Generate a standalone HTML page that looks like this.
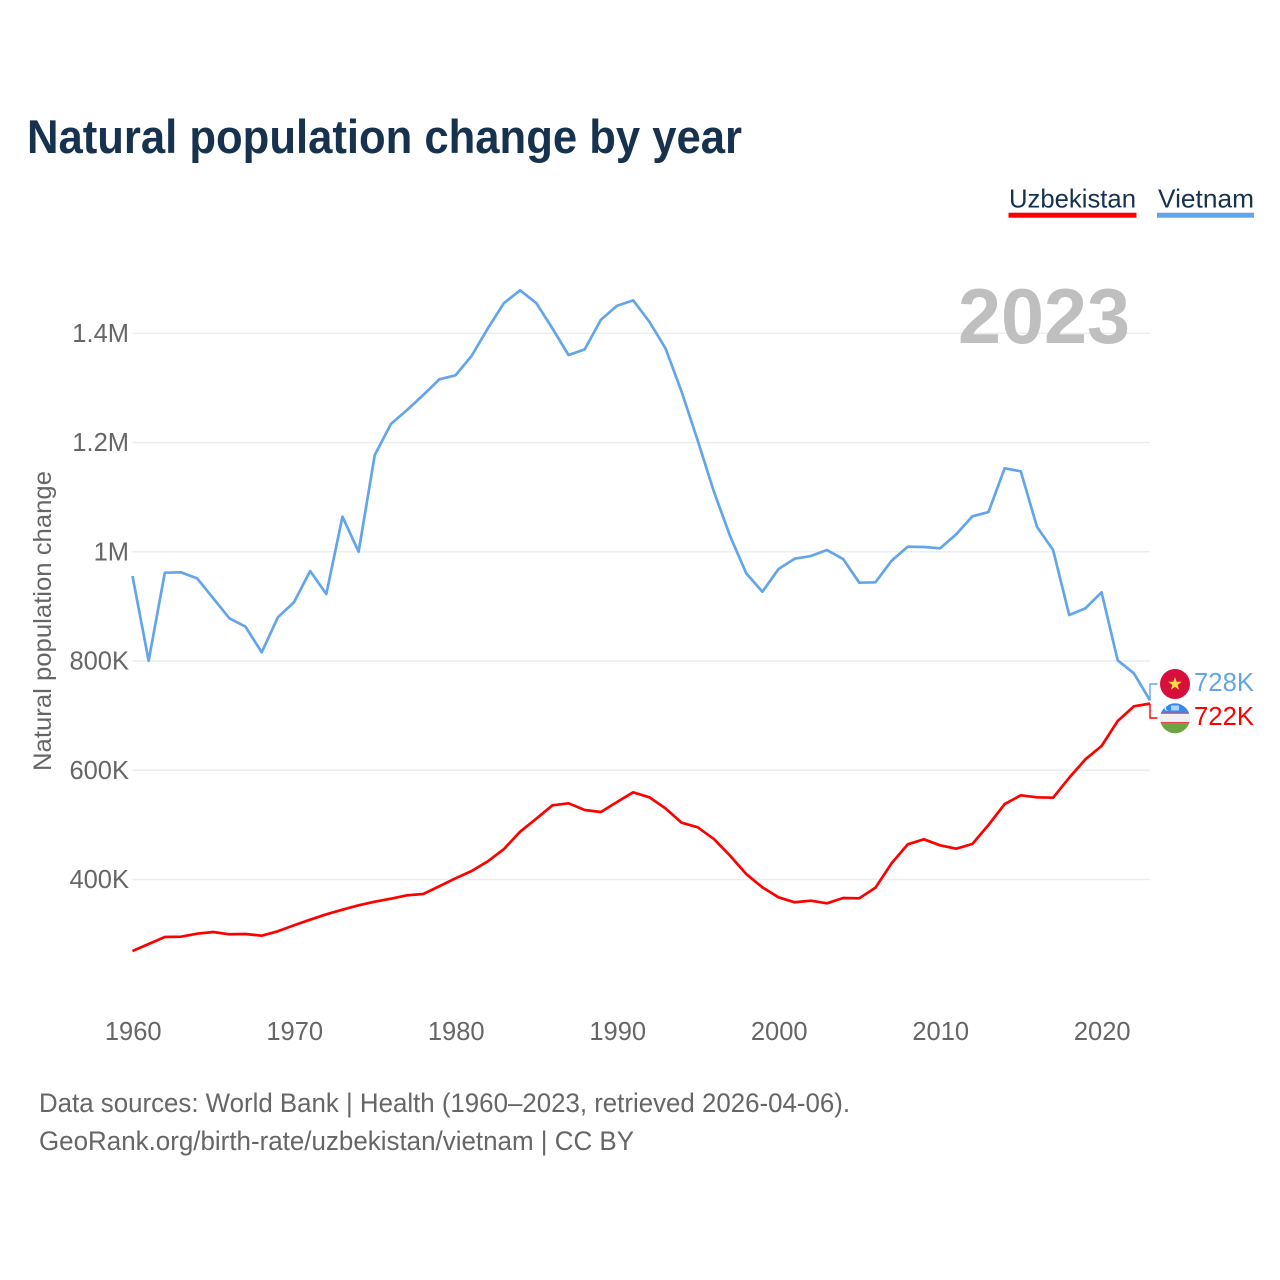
<!DOCTYPE html>
<html>
<head>
<meta charset="utf-8">
<title>Natural population change by year</title>
<style>
html,body{margin:0;padding:0;background:#fff;}
svg{display:block;}
text{font-family:"Liberation Sans",sans-serif;}
</style>
</head>
<body>
<svg id="chart" xmlns="http://www.w3.org/2000/svg" width="1280" height="1280" viewBox="0 0 1280 1280">
  <rect x="0" y="0" width="1280" height="1280" fill="#ffffff"/>
  <text x="27" y="153" font-size="47" font-weight="700" fill="#17324f" textLength="715" lengthAdjust="spacingAndGlyphs">Natural population change by year</text>

  <g>
    <text x="1009" y="207.5" font-size="26" fill="#17324f" textLength="127" lengthAdjust="spacingAndGlyphs">Uzbekistan</text>
    <rect x="1008.5" y="212.7" width="128" height="5" fill="#ff0000"/>
  </g>
  <g>
    <text x="1158" y="207.5" font-size="26" fill="#17324f" textLength="96" lengthAdjust="spacingAndGlyphs">Vietnam</text>
    <rect x="1157" y="212.7" width="97" height="5" fill="#63a5ea"/>
  </g>

  <g id="grid"></g>
  <g id="yticks"></g>
  <g id="xticks"></g>

  <text x="958" y="343" font-size="78" font-weight="700" fill="#bfbfbf" textLength="172" lengthAdjust="spacingAndGlyphs">2023</text>
  <text transform="translate(51,771) rotate(-90)" x="0" y="0" font-size="25" fill="#666666" textLength="300" lengthAdjust="spacingAndGlyphs">Natural population change</text>

  <g id="series"></g>

  <g>
    <circle cx="1175" cy="684" r="15" fill="#d80f3a"/>
    <polygon fill="#ffda44" points="1175,677 1176.7,681.7 1181.7,681.8 1177.7,684.9 1179.1,689.7 1175,686.9 1170.9,689.7 1172.3,684.9 1168.3,681.8 1173.3,681.7"/>
  </g>
  <g>
    <clipPath id="uzclip"><circle cx="1175" cy="718.3" r="15"/></clipPath>
    <g clip-path="url(#uzclip)">
      <rect x="1160" y="703" width="30" height="10" fill="#338af3"/>
      <rect x="1160" y="713" width="30" height="10" fill="#f0f0f0"/>
      <rect x="1160" y="712.6" width="30" height="1.2" fill="#e8434f"/>
      <rect x="1160" y="722" width="30" height="1.2" fill="#e8434f"/>
      <rect x="1160" y="723" width="30" height="11" fill="#6da544"/>
      <circle cx="1167" cy="708" r="2.6" fill="#f0f0f0"/>
      <circle cx="1168.2" cy="708" r="2.3" fill="#338af3"/>
      <rect x="1171" y="705.5" width="8" height="5" fill="#cfe3fb" opacity="0.8"/>
    </g>
  </g>
  <text x="1194" y="691" font-size="26" fill="#63a5ea" textLength="60" lengthAdjust="spacingAndGlyphs">728K</text>
  <text x="1194" y="725" font-size="26" fill="#ff0000" textLength="60" lengthAdjust="spacingAndGlyphs">722K</text>

  <text x="39" y="1112" font-size="26.5" fill="#666666" textLength="811" lengthAdjust="spacingAndGlyphs">Data sources: World Bank | Health (1960–2023, retrieved 2026-04-06).</text>
  <text x="39" y="1150" font-size="26.5" fill="#666666" textLength="595" lengthAdjust="spacingAndGlyphs">GeoRank.org/birth-rate/uzbekistan/vietnam | CC BY</text>
</svg>
<script>
const startYear = 1960;
const endYear = 2023;
const vietnamValues = [955.6,800.5,961.7,962.4,951.4,914.8,878.2,862.8,815.9,880,907.5,964.8,922.7,1064.2,1000.1,1177.1,1233.9,1259.5,1287,1315.7,1323,1358.9,1409,1455.4,1478.6,1455.4,1409,1360.2,1370.6,1424.8,1450.5,1460.3,1421.2,1372.5,1293,1203.3,1109.9,1028.8,960.6,926.9,968.4,987.3,992.2,1003.2,986.7,943.4,944.1,983.6,1009.3,1008.7,1006.3,1032,1064.9,1072.8,1152.8,1147.3,1045.9,1003.2,884.2,896.5,925.8,801.3,777.5,728];
const uzbekistanValues = [269.1,281.9,294.7,295.3,300.8,303.9,299.7,300.2,297.1,305.2,316.2,326.4,336.3,344.7,352.8,359.4,364.9,371.1,373.5,387.6,402.2,415.6,433.3,455.8,487.5,511.3,535.8,539.5,527.2,523.6,541.9,559.6,550.5,530.3,504,495.6,474.1,443.6,410,385.7,367.4,358.3,361.2,356.4,366.1,365.6,385,429.7,464.4,473.6,462.6,456.4,465,499.8,538.2,554.1,550.5,549.8,586.4,620,644.4,690.2,717,722];
const yTickValues = [400,600,800,1000,1200,1400];
const yTickLabels = ["400K","600K","800K","1M","1.2M","1.4M"];
const xTickValues = [1960,1970,1980,1990,2000,2010,2020];
const xTickLabels = ["1960","1970","1980","1990","2000","2010","2020"];

const NS = "http://www.w3.org/2000/svg";
function xScale(year){ return 132.5 + (year - startYear) * (1150 - 132.5) / (endYear - startYear); }
function yScale(v){ return 879.5 - (v - 400) * (879.5 - 333.3) / 1000; }
function make(tag, attrs, parent){
  const el = document.createElementNS(NS, tag);
  for (const k in attrs) el.setAttribute(k, attrs[k]);
  parent.appendChild(el);
  return el;
}

const grid = document.getElementById('grid');
const yticks = document.getElementById('yticks');
yTickValues.forEach(function(v, i){
  const line = make('line', {x1:132.5, x2:1150, y1:yScale(v), y2:yScale(v), stroke:'#ececec', 'stroke-width':1.4}, grid);
  
  
  const t = make('text', {x:129, y:yScale(v)+8.5, 'text-anchor':'end', 'font-size':25.5, fill:'#666666'}, yticks);
  t.textContent = yTickLabels[i];
  
  
});

const xticks = document.getElementById('xticks');
xTickValues.forEach(function(year, i){
  const t = make('text', {x:xScale(year)+0.7, y:1040, 'text-anchor':'middle', 'font-size':25.5, fill:'#666666'}, xticks);
  t.textContent = xTickLabels[i];
  
  
});

function linePath(values){
  return values.map(function(v, i){
    return (i ? 'L' : 'M') + xScale(startYear + i).toFixed(2) + ' ' + yScale(v).toFixed(2);
  }).join(' ');
}
const series = document.getElementById('series');

const uzLine = make('path', {d:linePath(uzbekistanValues), fill:'none', stroke:'#ff0000', 'stroke-width':2.7, 'stroke-linejoin':'round'}, series);



const vnLine = make('path', {d:linePath(vietnamValues), fill:'none', stroke:'#63a5ea', 'stroke-width':2.7, 'stroke-linejoin':'round'}, series);



const lastX = xScale(endYear);
const vnEndY = yScale(vietnamValues[vietnamValues.length - 1]);
const uzEndY = yScale(uzbekistanValues[uzbekistanValues.length - 1]);

const vnConn = make('path', {d:'M' + lastX + ' ' + vnEndY + ' V684 H1157.5', fill:'none', stroke:'#63a5ea', 'stroke-width':1.4}, series);



const uzConn = make('path', {d:'M' + lastX + ' ' + uzEndY + ' V718 H1157.5', fill:'none', stroke:'#ff0000', 'stroke-width':1.4}, series);


</script>
</body>
</html>
